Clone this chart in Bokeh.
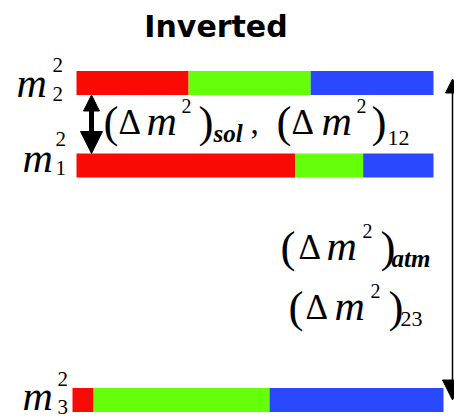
from bokeh.plotting import figure
from bokeh.models import Range1d, Label, Arrow, NormalHead, ColumnDataSource
from bokeh.embed import file_html
from bokeh.resources import INLINE

# ---- data ----
states = ["m2", "m1", "m3"]
mass_sq_level = [3.17, 2.345, 0.0]          # relative m^2 levels (inverted ordering)
frac_e = [0.314, 0.613, 0.057]               # electron flavour content (red)
frac_mu = [0.342, 0.190, 0.474]              # muon flavour content (green)
frac_tau = [0.344, 0.197, 0.469]             # tau flavour content (blue)
flavour_colors = ["#FA0A05", "#66FF0A", "#2A48FF"]

# ---- layout helpers (reference-pixel -> data) ----
PX0, PXS = 76.0, 357.0
PY0, PYS = 399.5, 100.0
def X(px):
    return (px - PX0) / PXS
def Y(py):
    return (PY0 - py) / PYS

row_span = {"m2": (0.0, 1.0), "m1": (0.0, 1.0), "m3": (X(72), X(443))}

W, H = 454, 418
p = figure(width=W, height=H, x_range=Range1d(X(0), X(W)),
           y_range=Range1d(Y(H), Y(0)), output_backend="svg",
           toolbar_location=None, x_axis_type=None, y_axis_type=None,
           min_border=0)
p.grid.visible = False
p.outline_line_color = None
p.background_fill_color = "white"
p.border_fill_color = "white"

# ---- stacked flavour bars ----
ys, lefts, rights, cols = [], [], [], []
for i, s in enumerate(states):
    a, b = row_span[s]
    span = b - a
    cum = 0.0
    for f, c in zip((frac_e[i], frac_mu[i], frac_tau[i]), flavour_colors):
        ys.append(mass_sq_level[i])
        lefts.append(a + cum * span)
        rights.append(a + (cum + f) * span)
        cols.append(c)
        cum += f
src = ColumnDataSource(dict(y=ys, left=lefts, right=rights, color=cols))
p.hbar(y="y", left="left", right="right", height=0.24, fill_color="color",
       line_color=None, source=src)

# ---- arrows ----
lv = dict(zip(states, mass_sq_level))
half = 0.12
p.add_layout(Arrow(x_start=X(91), y_start=lv["m2"] - half, x_end=X(91), y_end=lv["m1"] + half,
                   line_width=5, line_color="black",
                   start=NormalHead(size=16, fill_color="black", line_color="black"),
                   end=NormalHead(size=22, fill_color="black", line_color="black")))
p.add_layout(Arrow(x_start=X(452), y_start=lv["m2"] + 0.04, x_end=X(452), y_end=lv["m3"],
                   line_width=1.5, line_color="black",
                   start=NormalHead(size=14, fill_color="black", line_color="black"),
                   end=NormalHead(size=20, fill_color="black", line_color="black")))

SERIF = "Liberation Serif"
def lab(txt, px, py, size, style="normal", font=SERIF, align="left"):
    # empirical correction of the rendered baseline position
    py_adj = py - (5 + 0.22 * size)
    p.add_layout(Label(x=X(px), y=Y(py_adj), text=txt, text_font=font,
                       text_font_size=f"{size}px", text_font_style=style,
                       text_color="black", text_baseline="alphabetic",
                       text_align=align))

# title
lab("Inverted", 215.5, 38, 30, "bold", "DejaVu Sans", "center")

# mass labels
for (mx, mb, sx, sup_b, sub_b, sub) in [(16, 97, 52, 74, 103, "2"),
                                        (22, 172, 55, 148, 177, "1"),
                                        (22, 410, 57, 388, 416, "3")]:
    lab("m", mx, mb, 42, "italic")
    lab("2", sx, sup_b, 21)
    lab(sub, sx, sub_b, 21)

def delta(xp, xd, xm, x2, xc, B, sub, xs, sub_style, sub_dy, sub_size):
    lab("(", xp, B + 1, 45)
    lab("\u0394", xd, B, 35)
    lab("m", xm, B, 42, "italic")
    lab("2", x2, B - 20, 20)
    lab(")", xc, B + 1, 45)
    lab(sub, xs, B + sub_dy, sub_size, sub_style)

delta(103, 118, 146, 181, 198, 135, "sol", 213, "bold italic", 8, 25)
lab(",", 250, 135, 33)
delta(276, 291, 321, 356, 371, 135, "12", 387, "normal", 12, 22)
delta(280, 298, 326, 362, 380, 260, "atm", 391, "bold italic", 8, 25)
delta(288, 305, 334, 370, 388, 320, "23", 400, "normal", 8, 22)

open("out.html", "w").write(file_html(p, INLINE))
